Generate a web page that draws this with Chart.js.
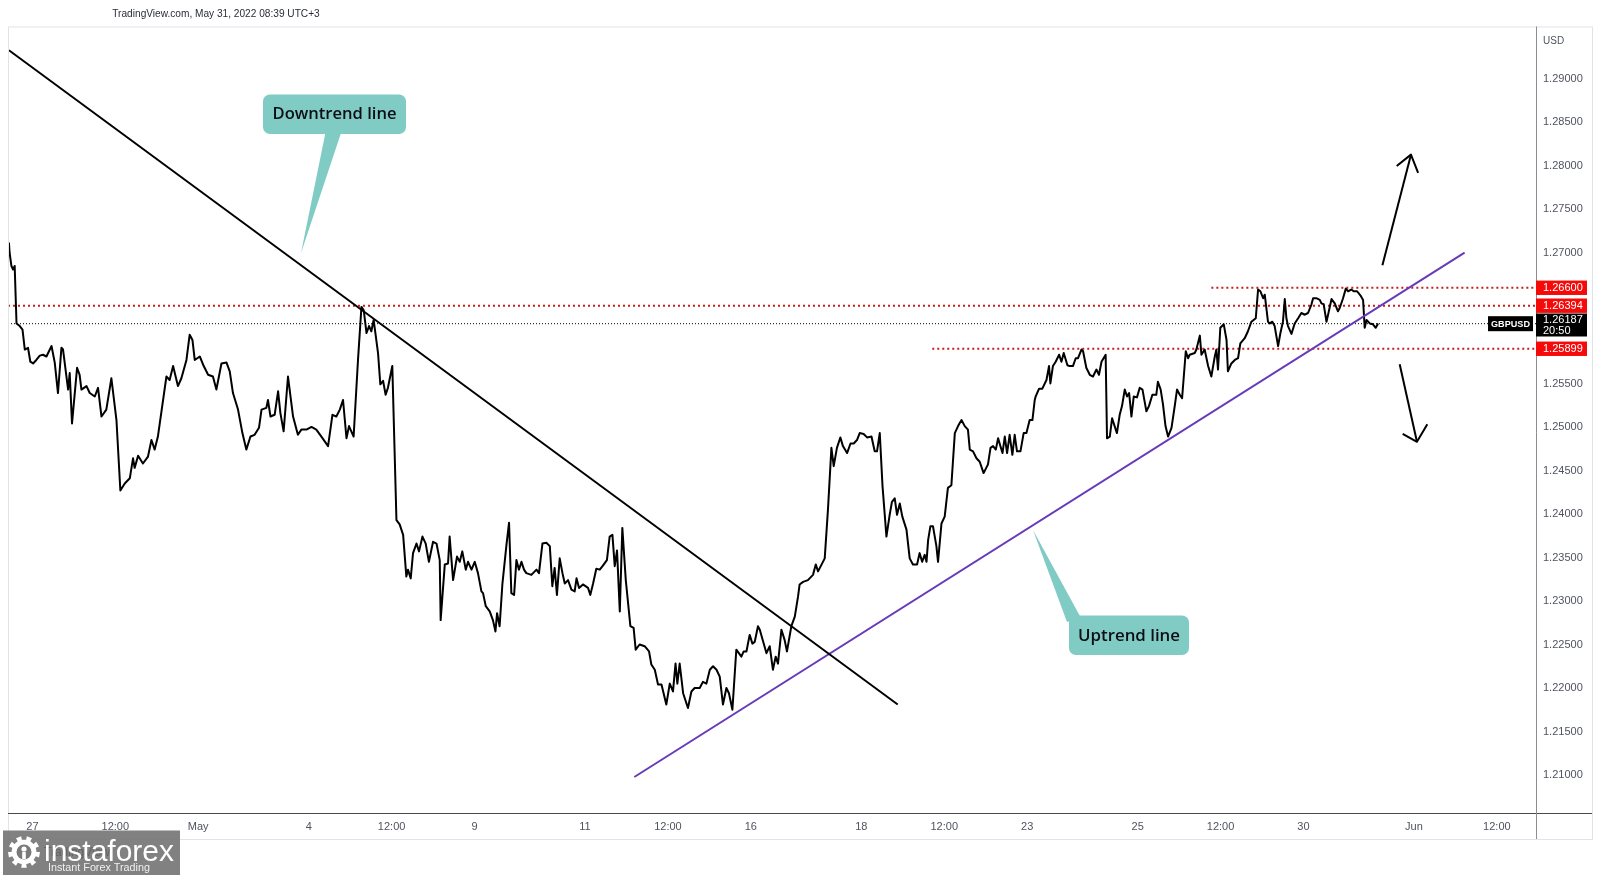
<!DOCTYPE html>
<html>
<head>
<meta charset="utf-8">
<title>GBPUSD</title>
<script src="https://cdn.jsdelivr.net/npm/chart.js@4.4.1/dist/chart.umd.min.js"></script>
<style>
  html, body { margin: 0; padding: 0; background: #fff; }
  canvas { display: block; }
</style>
</head>
<body>
<canvas id="chart" width="1600" height="875"></canvas>
<script>
// Time is in trading hours since Apr 27 00:00 (weekends skipped), price in USD
const hours = [
  -10.2,-9.9,-9.1,-8.4,-7.7,-6.9,-5.5,-4.3,-3.3,-1.9,-0.9,0.3,1.7,3.2,4.6,6.1,8.3,9.7,11.1,12.6,
  13.3,15.5,16.2,17.2,19.4,20.5,21.3,23.5,24.9,27.1,28.5,30.0,32.1,34.3,36.5,38.2,40.1,42.3,43.7,44.4,
  45.9,48.0,50.2,51.7,53.1,54.5,58.2,59.6,61.1,63.2,64.7,66.9,68.3,69.5,70.5,72.7,74.4,76.3,78.4,79.9,
  82.1,84.3,85.7,87.1,89.3,91.2,92.9,94.7,96.5,98.4,99.5,101.6,102.3,103.4,105.2,106.7,107.7,109.1,111.0,113.2,
  115.3,116.8,119.0,121.2,123.3,125.5,128.4,130.3,132.0,133.5,134.9,136.4,137.5,139.5,141.4,142.9,143.9,145.1,146.2,147.2,
  148.2,150.1,151.1,152.3,153.4,154.4,156.3,
  158.1,159.5,161.0,162.4,163.1,164.3,165.3,166.8,167.9,169.4,170.8,172.2,174.0,175.5,176.9,177.3,179.1,180.5,181.2,182.7,
  184.4,185.6,186.7,188.2,189.2,190.7,192.1,193.5,195.0,195.7,196.9,198.6,200.0,201.1,201.8,202.9,204.1,205.9,207.0,208.0,
  209.2,210.2,211.3,212.4,213.5,214.5,216.7,218.9,220.0,221.5,223.2,224.7,225.8,226.8,227.8,229.0,230.2,231.2,232.6,234.1,
  235.5,236.3,237.4,239.1,241.3,242.3,243.5,244.9,246.4,247.6,249.5,250.7,251.9,252.9,253.9,255.1,256.2,257.7,259.7,261.1,
  262.0,263.7,265.9,267.8,268.8,270.3,271.7,273.2,275.3,276.8,278.2,279.3,280.1,281.1,282.6,284.7,286.2,287.6,289.8,291.2,
  292.7,294.2,295.6,297.1,298.5,299.9,301.4,302.5,304.0,305.7,307.9,308.9,310.1,311.5,312.7,313.7,315.1,
  315.9,318.8,320.2,321.6,322.8,323.8,325.3,326.7,327.7,329.6,331.1,332.5,333.2,334.7,336.8,339.0,340.2,341.2,344.1,345.5,
  347.0,348.0,349.4,350.9,352.0,353.8,355.3,356.7,358.1,359.3,361.0,362.5,364.4,365.8,366.8,368.0,369.2,370.9,372.3,373.3,
  374.5,375.5,376.7,377.8,379.6,381.0,382.4,384.2,385.3,386.4,387.5,388.3,389.0,390.0,391.1,392.6,393.3,394.8,396.2,397.6,
  399.1,400.6,402.0,403.5,404.9,406.3,407.1,408.5,410.0,411.4,413.1,415.0,416.1,417.2,418.4,419.4,420.4,421.3,422.3,423.3,
  424.4,425.6,426.6,427.6,429.1,430.5,431.7,433.1,434.3,435.3,
  435.7,437.2,438.6,440.4,441.5,442.1,443.2,444.4,445.9,446.9,447.9,449.5,450.5,451.9,453.1,454.1,455.6,456.3,457.7,459.2,
  460.6,462.1,463.2,464.3,466.1,466.7,467.9,468.9,470.0,471.0,472.2,473.2,474.4,475.4,476.3,477.3,478.3,479.7,480.9,482.1,
  483.8,484.9,486.4,488.1,488.8,490.0,491.0,492.1,493.2,494.7,496.1,497.1,498.3,499.3,
  500.9,501.9,502.6,504.8,505.5,507.0,507.7,509.1,510.6,512.0,513.5,514.2,514.9,515.9,517.4,518.6,519.2,520.7,522.2,523.6,
  524.6,526.5,527.9,529.4,531.3,532.3,533.3,534.5,535.2,536.6,537.4,538.5,539.5,541.0,542.0,543.1,543.9,544.6,545.3,546.8,
  548.2,549.7,551.1,552.6,554.0,555.5,556.2,557.6,559.1,559.8,560.8,562.0,562.7,564.2,565.6,567.0,567.8,569.2,570.4,571.4,
  572.8,573.8,575.3,576.8,577.9,578.6,579.4,580.8,582.2,583.4,584.4
];
const prices = [
  1.2712,1.2700,1.2685,1.2681,1.2685,1.2619,1.2616,1.2612,1.2589,1.2591,1.2575,1.2573,1.2577,1.2582,1.2583,1.2581,1.2593,1.2574,1.2539,1.2591,
  1.2589,1.2543,1.2562,1.2504,1.2568,1.2560,1.2543,1.2547,1.2539,1.2535,1.2545,1.2512,1.2520,1.2556,1.2508,1.2427,1.2435,1.2441,1.2464,1.2453,
  1.2467,1.2458,1.2466,1.2485,1.2474,1.2489,1.2558,1.2554,1.2570,1.2547,1.2556,1.2577,1.2606,1.2600,1.2577,1.2581,1.2570,1.2560,1.2558,1.2543,
  1.2573,1.2574,1.2564,1.2539,1.2520,1.2493,1.2474,1.2489,1.2491,1.2499,1.2520,1.2522,1.2531,1.2512,1.2514,1.2541,1.2516,1.2495,1.2558,1.2512,
  1.2491,1.2497,1.2497,1.2500,1.2497,1.2489,1.2478,1.2514,1.2512,1.2520,1.2531,1.2487,1.2501,1.2489,1.2577,1.2638,1.2634,1.2608,1.2616,1.2610,
  1.2623,1.2585,1.2549,1.2553,1.2537,1.2545,1.2570,
  1.2393,1.2388,1.2376,1.2328,1.2336,1.2326,1.2355,1.2366,1.2357,1.2374,1.2366,1.2345,1.2368,1.2366,1.2347,1.2278,1.2342,1.2343,1.2374,1.2324,
  1.2351,1.2345,1.2357,1.2336,1.2345,1.2336,1.2345,1.2332,1.2311,1.2309,1.2294,1.2288,1.2278,1.2265,1.2286,1.2271,1.2319,1.2365,1.2390,1.2309,
  1.2307,1.2347,1.2336,1.2345,1.2336,1.2332,1.2330,1.2336,1.2332,1.2366,1.2367,1.2363,1.2317,1.2338,1.2307,1.2349,1.2332,1.2320,1.2324,1.2313,
  1.2311,1.2326,1.2315,1.2319,1.2315,1.2307,1.2320,1.2337,1.2336,1.2340,1.2347,1.2374,1.2376,1.2340,1.2358,1.2288,1.2384,1.2324,1.2271,1.2269,
  1.2244,1.2250,1.2248,1.2242,1.2227,1.2221,1.2204,1.2204,1.2181,1.2205,1.2196,1.2228,1.2205,1.2228,1.2194,1.2177,1.2196,1.2200,1.2200,1.2207,
  1.2205,1.2221,1.2225,1.2221,1.2213,1.2181,1.2200,1.2194,1.2175,1.2244,1.2236,1.2242,1.2242,1.2261,1.2251,1.2253,1.2271,
  1.2267,1.2240,1.2248,1.2221,1.2236,1.2228,1.2267,1.2255,1.2242,1.2271,1.2282,1.2305,1.2319,1.2322,1.2324,1.2330,1.2342,1.2334,1.2349,1.2405,
  1.2476,1.2455,1.2476,1.2488,1.2478,1.2470,1.2481,1.2481,1.2485,1.2493,1.2492,1.2488,1.2489,1.2472,1.2472,1.2493,1.2432,1.2374,1.2399,1.2414,
  1.2418,1.2399,1.2412,1.2397,1.2382,1.2349,1.2342,1.2342,1.2355,1.2345,1.2353,1.2345,1.2370,1.2386,1.2386,1.2363,1.2345,1.2389,1.2397,1.2430,
  1.2433,1.2493,1.2501,1.2508,1.2501,1.2497,1.2474,1.2472,1.2464,1.2460,1.2447,1.2457,1.2476,1.2478,1.2474,1.2487,1.2478,1.2470,1.2489,1.2470,
  1.2491,1.2468,1.2491,1.2472,1.2472,1.2493,1.2493,1.2508,1.2508,1.2531,
  1.2535,1.2544,1.2544,1.2554,1.2570,1.2550,1.2570,1.2575,1.2583,1.2575,1.2585,1.2571,1.2570,1.2570,1.2579,1.2579,1.2589,1.2587,1.2568,1.2560,
  1.2558,1.2566,1.2560,1.2575,1.2583,1.2487,1.2489,1.2510,1.2501,1.2493,1.2514,1.2524,1.2543,1.2535,1.2539,1.2512,1.2535,1.2534,1.2545,1.2543,
  1.2518,1.2524,1.2537,1.2537,1.2552,1.2543,1.2526,1.2501,1.2489,1.2499,1.2524,1.2543,1.2537,1.2533,
  1.2587,1.2579,1.2583,1.2585,1.2589,1.2605,1.2583,1.2589,1.2570,1.2558,1.2581,1.2589,1.2566,1.2614,1.2618,1.2600,1.2564,1.2573,1.2577,1.2579,
  1.2596,1.2602,1.2610,1.2621,1.2625,1.2658,1.2656,1.2648,1.2652,1.2621,1.2619,1.2621,1.2616,1.2593,1.2608,1.2621,1.2647,1.2625,1.2616,1.2607,
  1.2619,1.2625,1.2631,1.2629,1.2631,1.2641,1.2648,1.2648,1.2646,1.2642,1.2641,1.2621,1.2629,1.2647,1.2642,1.2633,1.2637,1.2648,1.2659,1.2656,
  1.2658,1.2656,1.2656,1.2651,1.2646,1.2614,1.2623,1.2619,1.2618,1.2614,1.2619
];

// Time axis labels
const tickHours = [0, 36, 72, 120, 156, 192, 240, 276, 312, 360, 396, 432, 480, 516, 552, 600, 636];
const tickLabels = ['27', '12:00', 'May', '4', '12:00', '9', '11', '12:00', '16', '18', '12:00', '23', '25', '12:00', '30', 'Jun', '12:00'];
// Price axis labels (1.26000 / 1.26500 are hidden behind the price tags)
const priceTicks = [1.21, 1.215, 1.22, 1.225, 1.23, 1.235, 1.24, 1.245, 1.25, 1.255, 1.27, 1.275, 1.28, 1.285, 1.29];

// Horizontal levels and where each one starts
const levelPrices = [1.26600, 1.26394, 1.25899];
const levelStarts = [512.0, -10.6, 390.8];
const lastPrice = 1.26187;
const lastCountdown = '20:50';

// Drawn trend lines
const downHours = [-10.2, 375.8];
const downPrices = [1.2933, 1.2181];
const upHours = [261.4, 622.0];
const upPrices = [1.20977, 1.27003];

// Arrows: shaft and head
const arrowUpShaftHours = [586.3, 598.7];
const arrowUpShaftPrices = [1.2686, 1.2813];
const arrowUpHeadHours = [592.5, 598.7, 601.8];
const arrowUpHeadPrices = [1.2800, 1.2813, 1.2792];
const arrowDownShaftHours = [593.8, 601.3];
const arrowDownShaftPrices = [1.2572, 1.2483];
const arrowDownHeadHours = [595.1, 601.3, 605.8];
const arrowDownHeadPrices = [1.2492, 1.2483, 1.2503];

const X_MIN = -10.6, X_MAX = 653.0;
const Y_MIN = 1.20563, Y_MAX = 1.29603;

const AXIS_FONT = 'Liberation Sans, Arial, sans-serif';
const TEAL = '#80cbc4';

function pts(xs, ys) {
    const out = [];
    for (let i = 0; i < Math.min(xs.length, ys.length); i++) {
        out.push({ x: xs[i], y: ys[i] });
    }
    return out;
}

function lineSet(xs, ys, color, width, dash, order) {
    return {
        data: pts(xs, ys),
        borderColor: color,
        borderWidth: width,
        borderDash: dash || [],
        pointRadius: 0,
        tension: 0,
        fill: false,
        order: order
    };
}

// fit a font size so text takes the given width
function fitFont(ctx, text, width, family, weight) {
    ctx.font = (weight || '') + ' 20px ' + family;
    const w = ctx.measureText(text).width;
    return (weight || '') + ' ' + (20 * width / w).toFixed(2) + 'px ' + family;
}

function callout(ctx, box, wedge, text, textWidth) {
    ctx.save();
    ctx.fillStyle = TEAL;
    ctx.beginPath();
    ctx.moveTo(wedge[0][0], wedge[0][1]);
    ctx.lineTo(wedge[1][0], wedge[1][1]);
    ctx.lineTo(wedge[2][0], wedge[2][1]);
    ctx.closePath();
    ctx.fill();
    ctx.beginPath();
    ctx.roundRect(box[0], box[1], box[2], box[3], 7);
    ctx.fill();
    ctx.fillStyle = '#0b0e16';
    ctx.font = fitFont(ctx, text, textWidth, 'Open Sans, Noto Sans, sans-serif', '600');
    ctx.textAlign = 'center';
    ctx.textBaseline = 'middle';
    ctx.fillText(text, box[0] + box[2] / 2, box[1] + box[3] / 2 + 0.5);
    ctx.restore();
}

function priceTag(ctx, top, height, bg, lines) {
    ctx.fillStyle = bg;
    ctx.fillRect(1536, top, 51, height);
    ctx.fillStyle = '#fff';
    ctx.font = '11px ' + AXIS_FONT;
    ctx.textAlign = 'left';
    ctx.textBaseline = 'middle';
    const step = height / lines.length;
    lines.forEach((t, i) => ctx.fillText(t, 1543, top + step * (i + 0.5) + 0.5));
}

function drawGear(ctx, cx, cy) {
    ctx.save();
    ctx.fillStyle = '#fff';
    ctx.beginPath();
    const teeth = 9;
    for (let i = 0; i < teeth * 2; i++) {
        const r = i % 2 === 0 ? 16 : 12.5;
        const a0 = (i / (teeth * 2)) * Math.PI * 2;
        const a1 = ((i + 1) / (teeth * 2)) * Math.PI * 2;
        ctx.lineTo(cx + r * Math.cos(a0), cy + r * Math.sin(a0));
        ctx.lineTo(cx + r * Math.cos(a1), cy + r * Math.sin(a1));
    }
    ctx.closePath();
    ctx.fill();
    ctx.fillStyle = '#7a7a7a';
    ctx.beginPath();
    ctx.arc(cx, cy, 7.5, 0, Math.PI * 2);
    ctx.fill();
    ctx.fillStyle = '#fff';
    ctx.beginPath();
    ctx.arc(cx, cy - 3, 2.6, 0, Math.PI * 2);
    ctx.fill();
    ctx.fillRect(cx - 1.8, cy, 3.6, 7);
    ctx.restore();
}

const overlayPlugin = {
    id: 'overlay',
    beforeDraw(chart) {
        const c = chart.ctx;
        c.save();
        c.fillStyle = '#ffffff';
        c.fillRect(0, 0, chart.width, chart.height);
        c.restore();
    },
    afterDraw(chart) {
        const c = chart.ctx;
        const y = chart.scales.y;
        const a = chart.chartArea;
        c.save();

        // outer frame
        c.strokeStyle = '#e0e3eb';
        c.lineWidth = 1;
        c.strokeRect(a.left + 0.5, a.top + 0.5, 1592 - a.left, 839 - a.top);

        // axis lines
        c.strokeStyle = '#4a4a4a';
        c.beginPath();
        c.moveTo(a.left, a.bottom + 0.5);
        c.lineTo(1592, a.bottom + 0.5);
        c.stroke();
        c.strokeStyle = '#8a8d96';
        c.beginPath();
        c.moveTo(a.right + 0.5, a.top);
        c.lineTo(a.right + 0.5, 839);
        c.stroke();

        // currency label
        c.fillStyle = '#50535e';
        c.font = '10px ' + AXIS_FONT;
        c.textAlign = 'left';
        c.textBaseline = 'middle';
        c.fillText('USD', 1543, 41);

        // header
        c.fillStyle = '#2a2e39';
        c.font = fitFont(c, 'TradingView.com, May 31, 2022 08:39 UTC+3', 208, AXIS_FONT, '');
        c.textAlign = 'center';
        c.fillText('TradingView.com, May 31, 2022 08:39 UTC+3', 216, 14);

        // callouts
        callout(c, [263, 94.5, 143, 39.5], [[326, 130], [342, 130], [301, 253]], 'Downtrend line', 124);
        callout(c, [1069, 615.5, 120, 39.5], [[1067, 622], [1081, 618], [1033, 530]], 'Uptrend line', 102);

        // price tags on the axis
        const yLast = y.getPixelForValue(lastPrice);
        const blackTop = yLast - 10.2;
        const blackBottom = yLast + 12.8;
        levelPrices.forEach(p => {
            const yp = y.getPixelForValue(p);
            let top = yp - 7.2;
            if (top < blackBottom && top + 14.4 > blackTop) {
                top = p < lastPrice ? blackBottom : blackTop - 14.4;
            }
            priceTag(c, top, 14.4, '#f50a0a', [p.toFixed(5)]);
        });
        priceTag(c, blackTop, blackBottom - blackTop, '#000', [lastPrice.toFixed(5), lastCountdown]);

        // symbol tag
        c.fillStyle = '#000';
        c.fillRect(1488, yLast - 7.5, 45, 15);
        c.fillStyle = '#fff';
        c.font = fitFont(c, 'GBPUSD', 39, AXIS_FONT, 'bold');
        c.textAlign = 'center';
        c.fillText('GBPUSD', 1510.5, yLast + 0.5);

        // broker badge
        c.fillStyle = 'rgba(118,118,118,0.92)';
        c.fillRect(3, 830.5, 177, 44.5);
        c.fillStyle = 'rgba(40,40,40,0.35)';
        c.font = '12px ' + AXIS_FONT;
        c.textAlign = 'left';
        c.fillText('TradingView', 44, 853);
        drawGear(c, 24, 852);
        c.fillStyle = '#ffffff';
        c.font = fitFont(c, 'instaforex', 130, AXIS_FONT, '');
        c.textBaseline = 'alphabetic';
        c.fillText('instaforex', 44, 861);
        c.font = fitFont(c, 'Instant Forex Trading', 102, AXIS_FONT, '');
        c.fillStyle = '#f0f0f0';
        c.fillText('Instant Forex Trading', 48, 871);

        c.restore();
    }
};

const datasets = [
    lineSet(hours, prices, '#000000', 2, null, 2),
    lineSet(downHours, downPrices, '#000000', 2, null, 1),
    lineSet(upHours, upPrices, '#673ab7', 2, null, 1),
    lineSet(arrowUpShaftHours, arrowUpShaftPrices, '#000000', 2, null, 1),
    lineSet(arrowUpHeadHours, arrowUpHeadPrices, '#000000', 2, null, 1),
    lineSet(arrowDownShaftHours, arrowDownShaftPrices, '#000000', 2, null, 1),
    lineSet(arrowDownHeadHours, arrowDownHeadPrices, '#000000', 2, null, 1),
    lineSet([X_MIN, X_MAX], [lastPrice, lastPrice], '#000000', 1, [1, 2], 4)
];
levelPrices.forEach((p, i) => {
    datasets.push(lineSet([levelStarts[i], X_MAX], [p, p], '#c81e1e', 2, [2, 3], 3));
});

new Chart(document.getElementById('chart'), {
    type: 'line',
    data: { datasets },
    options: {
        responsive: false,
        animation: false,
        parsing: false,
        normalized: true,
        devicePixelRatio: 1,
        layout: { padding: { left: 8, right: 8, top: 26.5, bottom: 36 } },
        plugins: {
            legend: { display: false },
            tooltip: { enabled: false }
        },
        elements: { point: { radius: 0 }, line: { borderCapStyle: 'butt', borderJoinStyle: 'round' } },
        scales: {
            x: {
                type: 'linear',
                min: X_MIN,
                max: X_MAX,
                grid: { display: false, drawTicks: false },
                border: { display: false },
                afterBuildTicks: scale => { scale.ticks = tickHours.map(v => ({ value: v })); },
                afterFit: scale => { scale.height = 26; },
                ticks: {
                    autoSkip: false,
                    maxRotation: 0,
                    padding: 7,
                    color: '#50535e',
                    font: { family: AXIS_FONT, size: 11 },
                    callback: value => tickLabels[tickHours.indexOf(value)]
                }
            },
            y: {
                type: 'linear',
                position: 'right',
                min: Y_MIN,
                max: Y_MAX,
                grid: { display: false, drawTicks: false },
                border: { display: false },
                afterBuildTicks: scale => { scale.ticks = priceTicks.map(v => ({ value: v })); },
                afterFit: scale => { scale.width = 56; },
                ticks: {
                    padding: 7,
                    color: '#50535e',
                    font: { family: AXIS_FONT, size: 11 },
                    callback: value => value.toFixed(5)
                }
            }
        }
    },
    plugins: [overlayPlugin]
});
</script>
</body>
</html>
